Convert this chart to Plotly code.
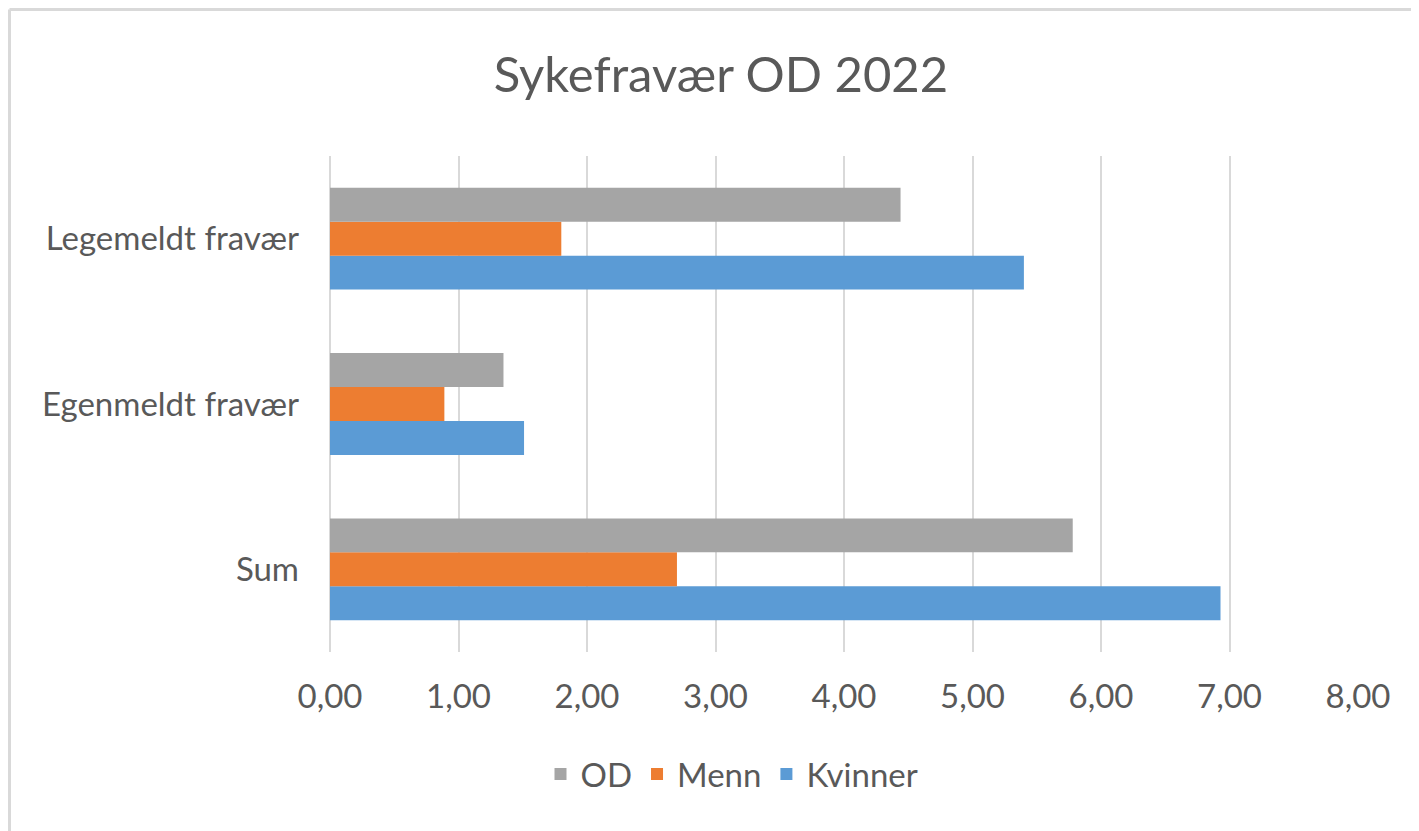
import plotly.graph_objects as go

categories = ["Sum", "Egenmeldt fravær", "Legemeldt fravær"]
od_values = [5.78, 1.35, 4.44]
menn_values = [2.70, 0.89, 1.80]
kvinner_values = [6.93, 1.51, 5.40]
x_ticks = [0, 1, 2, 3, 4, 5, 6, 7, 8]

W, H = 1411, 823
L, R, T, B = 322, 61, 148, 179
PW, PH = W - L - R, H - T - B

def px_x(x):
    return (x - L) / PW

def px_y(y):
    return (H - B - y) / PH

FONT = "Lato, Carlito, 'Open Sans', sans-serif"
TXT = "#595959"

fig = go.Figure()
fig.add_trace(go.Bar(y=categories, x=kvinner_values, name="Kvinner", orientation="h",
                     marker=dict(color="#5B9BD5", line=dict(width=0))))
fig.add_trace(go.Bar(y=categories, x=menn_values, name="Menn", orientation="h",
                     marker=dict(color="#ED7D31", line=dict(width=0))))
fig.add_trace(go.Bar(y=categories, x=od_values, name="OD", orientation="h",
                     marker=dict(color="#A5A5A5", line=dict(width=0))))

fig.update_layout(
    width=W, height=H,
    margin=dict(l=L, r=R, t=T, b=B, pad=0),
    paper_bgcolor="white", plot_bgcolor="white",
    barmode="group", bargap=0.384, bargroupgap=0,
    separators=", ",
    font=dict(family=FONT, color=TXT, size=33),
    title=dict(text="Sykefravær OD 2022", x=713 / W, xref="container", xanchor="center",
               y=1 - 67 / H, yref="container", yanchor="middle",
               font=dict(family=FONT, size=49, color=TXT)),
    legend=dict(orientation="h", traceorder="reversed", x=px_x(724), xanchor="center",
                y=px_y(766), yanchor="middle", font=dict(size=33, color=TXT),
                bgcolor="rgba(0,0,0,0)"),
    showlegend=True,
)
fig.update_xaxes(range=[0, 8], tickvals=x_ticks, tickformat=".2f", showgrid=True,
                 gridcolor="#D9D9D9", gridwidth=2, zeroline=True, zerolinecolor="#D9D9D9",
                 zerolinewidth=2, showline=False, ticks="", ticklabelstandoff=22,
                 tickfont=dict(size=33, color=TXT), fixedrange=True)
fig.update_yaxes(showgrid=False, zeroline=False, showline=False, ticks="",
                 ticklabelstandoff=30, tickfont=dict(size=33, color=TXT))

# outer chart border (top and left visible)
fig.add_shape(type="line", xref="paper", yref="paper", x0=px_x(1.5), x1=px_x(W + 20),
              y0=px_y(1.5), y1=px_y(1.5), line=dict(color="#D9D9D9", width=3))
fig.add_shape(type="line", xref="paper", yref="paper", x0=px_x(1.5), x1=px_x(1.5),
              y0=px_y(1.5), y1=px_y(H + 20), line=dict(color="#D9D9D9", width=3))

fig.write_html("out.html")
